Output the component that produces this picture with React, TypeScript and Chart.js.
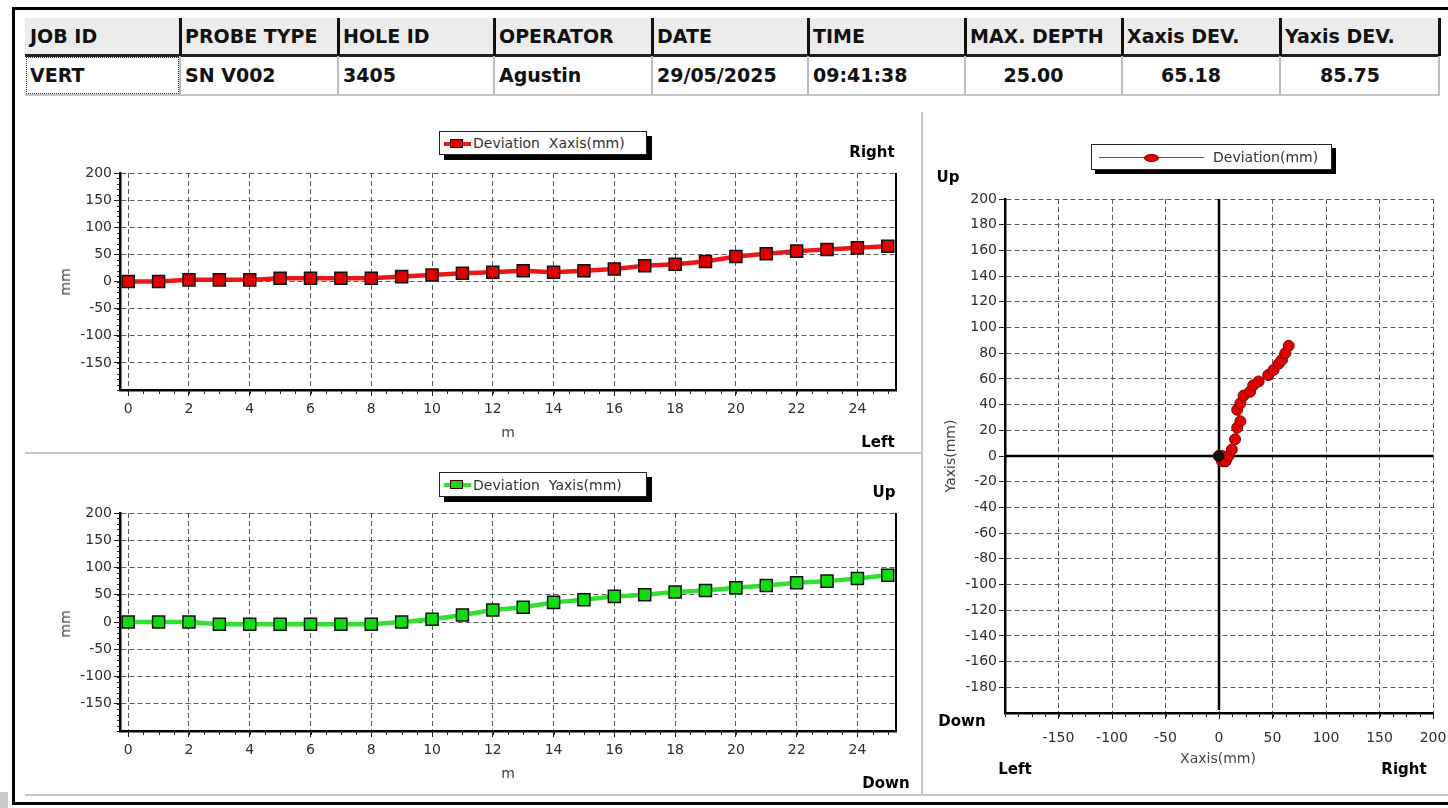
import React, { useEffect, useRef } from "react";
import { Chart, registerables } from "chart.js";

Chart.register(...registerables);

// ---------- data ----------
const headerLabels = ["JOB ID", "PROBE TYPE", "HOLE ID", "OPERATOR", "DATE", "TIME", "MAX. DEPTH", "Xaxis DEV.", "Yaxis DEV."];
const headerValues = ["VERT", "SN V002", "3405", "Agustin", "29/05/2025", "09:41:38", "25.00", "65.18", "85.75"];

const depthM = [0, 1, 2, 3, 4, 5, 6, 7, 8, 9, 10, 11, 12, 13, 14, 15, 16, 17, 18, 19, 20, 21, 22, 23, 24, 25];
const devXaxisMm = [0, 0, 3, 3, 3, 6, 6, 6, 6, 9, 12, 15, 17, 20, 17, 20, 23, 29, 32, 37, 46, 51, 56, 59, 62, 65.18];
const devYaxisMm = [0, 0, 0, -4, -4, -4, -4, -4, -4, 0, 5, 13, 22, 27, 36, 41, 47, 50, 55, 58, 63, 67, 72, 75, 80, 85.75];

const depthTicks = [0, 2, 4, 6, 8, 10, 12, 14, 16, 18, 20, 22, 24];
const devTicks = [-150, -100, -50, 0, 50, 100, 150, 200];
const planXTicks = [-150, -100, -50, 0, 50, 100, 150, 200];
const planYTicks = [-180, -160, -140, -120, -100, -80, -60, -40, -20, 0, 20, 40, 60, 80, 100, 120, 140, 160, 180, 200];

// ---------- style ----------
const SANS = "'DejaVu Sans', Verdana, sans-serif";
const TICK_FONT = { family: SANS, size: 14 };
const TICK_COLOR = "#2e2e2e";

const colEdges = [25, 180, 338, 494, 652, 808, 965, 1122, 1280, 1440];
const centeredCols = [6, 7, 8];

function fixAxis(size: number, horizontal: boolean) {
  return (s: any) => {
    if (horizontal) s.height = size;
    else s.width = size;
    s.paddingLeft = 0;
    s.paddingRight = 0;
    s.paddingTop = 0;
    s.paddingBottom = 0;
  };
}
function setTicks(values: number[]) {
  return (s: any) => {
    s.ticks = values.map((v) => ({ value: v }));
  };
}

const decorPlugin = {
  id: "decor",
  beforeDatasetsDraw(chart: any, _args: any, opts: any) {
    const { ctx, chartArea } = chart;
    const xs = chart.scales.x;
    const ys = chart.scales.y;
    if (opts.zeroLines) {
      ctx.save();
      ctx.strokeStyle = "#000";
      ctx.lineWidth = 2.5;
      ctx.setLineDash([]);
      const x0 = xs.getPixelForValue(0);
      const y0 = ys.getPixelForValue(0);
      ctx.beginPath();
      ctx.moveTo(chartArea.left, y0);
      ctx.lineTo(chartArea.right, y0);
      ctx.moveTo(x0, chartArea.top);
      ctx.lineTo(x0, chartArea.bottom - 3);
      ctx.stroke();
      ctx.restore();
    }
  },
  afterDraw(chart: any, _args: any, opts: any) {
    const { ctx, chartArea } = chart;
    const xs = chart.scales.x;
    const ys = chart.scales.y;
    ctx.save();
    ctx.setLineDash([]);
    ctx.strokeStyle = "#222";
    ctx.lineWidth = 1;
    if (opts.xMinor) {
      const step = opts.xMinor;
      ctx.beginPath();
      for (let v = Math.ceil(xs.min / step) * step; v <= xs.max + 1e-9; v += step) {
        const px = Math.round(xs.getPixelForValue(v)) + 0.5;
        ctx.moveTo(px, chartArea.bottom);
        ctx.lineTo(px, chartArea.bottom + 4);
      }
      ctx.stroke();
    }
    if (opts.yMinor) {
      const step = opts.yMinor;
      ctx.beginPath();
      for (let v = Math.ceil(ys.min / step) * step; v <= ys.max + 1e-9; v += step) {
        const py = Math.round(ys.getPixelForValue(v)) + 0.5;
        ctx.moveTo(chartArea.left - 3, py);
        ctx.lineTo(chartArea.left, py);
      }
      ctx.stroke();
    }
    if (opts.rightBorder) {
      ctx.strokeStyle = "#000";
      ctx.lineWidth = 2;
      ctx.beginPath();
      ctx.moveTo(chartArea.right, chartArea.top);
      ctx.lineTo(chartArea.right, chartArea.bottom);
      ctx.stroke();
    }
    ctx.restore();
  },
};

function gridOpts() {
  return {
    color: "#5a5a5a",
    lineWidth: 1,
    drawTicks: true,
    tickLength: 6,
    tickColor: "#222",
    tickWidth: 1,
    tickBorderDash: [],
    borderDash: [5, 3],
  };
}
function borderOpts() {
  return { display: true, color: "#000", width: 2.5, dash: [5, 3] };
}

function depthChart(values: number[], fill: string, line: string, label: string, xHeight: number, topPad: number) {
  return {
    type: "line",
    data: {
      datasets: [
        {
          label,
          data: depthM.map((d, i) => ({ x: d, y: values[i] })),
          borderColor: line,
          borderWidth: 4.5,
          backgroundColor: fill,
          pointBackgroundColor: fill,
          pointBorderColor: "#111",
          pointBorderWidth: 1.5,
          pointStyle: "rect",
          pointRadius: 8.5,
          tension: 0,
          clip: false,
        },
      ],
    },
    options: {
      animation: false,
      responsive: false,
      maintainAspectRatio: false,
      devicePixelRatio: 1,
      layout: { padding: { top: topPad, right: 24, left: 0, bottom: 0 } },
      plugins: { legend: { display: false }, tooltip: { enabled: false }, decor: { xMinor: 0.5, yMinor: 10, rightBorder: true } },
      scales: {
        x: {
          type: "linear",
          min: -0.27,
          max: 25.27,
          afterBuildTicks: setTicks(depthTicks),
          afterFit: fixAxis(xHeight, true),
          grid: gridOpts(),
          border: borderOpts(),
          ticks: { font: TICK_FONT, color: TICK_COLOR, padding: 5, maxRotation: 0, autoSkip: false, callback: (v: any) => String(v) },
        },
        y: {
          type: "linear",
          min: -200,
          max: 200,
          afterBuildTicks: setTicks(devTicks),
          afterFit: fixAxis(100, false),
          grid: gridOpts(),
          border: borderOpts(),
          ticks: { font: TICK_FONT, color: TICK_COLOR, padding: 2, autoSkip: false, callback: (v: any) => String(v) },
        },
      },
    },
    plugins: [decorPlugin],
  };
}

function planChart() {
  return {
    type: "scatter",
    data: {
      datasets: [
        {
          label: "start",
          data: [{ x: devXaxisMm[0], y: devYaxisMm[0] }],
          pointBackgroundColor: "#111",
          pointBorderColor: "#000",
          pointRadius: 5,
          pointStyle: "circle",
          showLine: false,
        },
        {
          label: "Deviation(mm)",
          data: devXaxisMm.map((x, i) => ({ x, y: devYaxisMm[i] })),
          showLine: true,
          borderColor: "#cc0000",
          borderWidth: 1.5,
          backgroundColor: "#e00000",
          pointBackgroundColor: "#e00000",
          pointBorderColor: "#8a0000",
          pointBorderWidth: 1,
          pointRadius: 5.5,
          pointStyle: "circle",
          tension: 0,
        },
      ],
    },
    options: {
      animation: false,
      responsive: false,
      maintainAspectRatio: false,
      devicePixelRatio: 1,
      layout: { padding: { top: 14, right: 15, left: 0, bottom: 0 } },
      plugins: { legend: { display: false }, tooltip: { enabled: false }, decor: { xMinor: 12.5, zeroLines: true } },
      scales: {
        x: {
          type: "linear",
          min: -200,
          max: 200,
          afterBuildTicks: setTicks(planXTicks),
          afterFit: fixAxis(77, true),
          grid: gridOpts(),
          border: borderOpts(),
          ticks: { font: TICK_FONT, color: TICK_COLOR, padding: 11, maxRotation: 0, autoSkip: false, callback: (v: any) => String(v) },
        },
        y: {
          type: "linear",
          min: -200,
          max: 200,
          afterBuildTicks: setTicks(planYTicks),
          afterFit: fixAxis(80, false),
          grid: gridOpts(),
          border: borderOpts(),
          ticks: { font: TICK_FONT, color: TICK_COLOR, padding: 2, autoSkip: false, callback: (v: any) => String(v) },
        },
      },
    },
    plugins: [decorPlugin],
  };
}

function ChartBox(props: { left: number; top: number; width: number; height: number; make: () => any }) {
  const ref = useRef<HTMLCanvasElement>(null);
  useEffect(() => {
    const c = new Chart(ref.current as HTMLCanvasElement, props.make());
    return () => c.destroy();
  }, []);
  return (
    <canvas
      ref={ref}
      width={props.width}
      height={props.height}
      style={{ position: "absolute", left: props.left, top: props.top, width: props.width, height: props.height }}
    />
  );
}

function Txt(props: { x: number; y: number; children: any; style?: any; rotate?: boolean }) {
  return (
    <div
      style={{
        position: "absolute",
        left: props.x,
        top: props.y,
        transform: `translate(-50%, -50%)${props.rotate ? " rotate(-90deg)" : ""}`,
        whiteSpace: "nowrap",
        lineHeight: 1,
        ...props.style,
      }}
    >
      {props.children}
    </div>
  );
}

const dirStyle = { fontFamily: SANS, fontWeight: "bold", fontSize: 15, color: "#000" };
const titleStyle = { fontFamily: SANS, fontSize: 14, color: "#444" };

function Legend(props: { left: number; top: number; width: number; height: number; kind: "sq" | "dot"; fill: string; line: string; text: string; textLeft: number; shadow: number }) {
  const cy = props.height / 2;
  return (
    <div
      style={{
        position: "absolute",
        left: props.left,
        top: props.top,
        width: props.width,
        height: props.height,
        background: "#fff",
        border: "1px solid #222",
        boxSizing: "border-box",
        boxShadow: `${props.shadow}px ${props.shadow}px 0 #000`,
      }}
    >
      {props.kind === "sq" ? (
        <>
          <div style={{ position: "absolute", left: 4, top: cy - 2.5, width: 27, height: 4, background: props.line }} />
          <div style={{ position: "absolute", left: 10, top: cy - 5.5, width: 13, height: 9, background: props.fill, border: "1px solid #400", boxSizing: "border-box" }} />
        </>
      ) : (
        <>
          <div style={{ position: "absolute", left: 7, top: cy - 1.5, width: 105, height: 1.5, background: props.line }} />
          <div style={{ position: "absolute", left: 52, top: cy - 4.5, width: 15, height: 8, borderRadius: "50%", background: props.fill, border: "1px solid #800", boxSizing: "border-box" }} />
        </>
      )}
      <div
        style={{
          position: "absolute",
          left: props.textLeft,
          top: cy - 1,
          transform: "translateY(-50%)",
          fontFamily: SANS,
          fontSize: 14,
          color: "#333",
          whiteSpace: "pre",
          lineHeight: 1,
        }}
      >
        {props.text}
      </div>
    </div>
  );
}

function HeaderTable() {
  const cells: any[] = [];
  for (let i = 0; i < headerLabels.length; i++) {
    const l = colEdges[i];
    const r = colEdges[i + 1];
    const center = centeredCols.includes(i);
    cells.push(
      <div key={"h" + i} style={{ position: "absolute", left: l + 5, top: 36, transform: "translateY(-50%)", fontFamily: SANS, fontWeight: "bold", fontSize: 19, color: "#111", whiteSpace: "nowrap", lineHeight: 1 }}>
        {headerLabels[i]}
      </div>
    );
    cells.push(
      <div
        key={"v" + i}
        style={{
          position: "absolute",
          left: center ? (l + r) / 2 - 10 : l + 5,
          top: 75,
          transform: center ? "translate(-50%, -50%)" : "translateY(-50%)",
          fontFamily: SANS,
          fontWeight: "bold",
          fontSize: 19,
          color: "#111",
          whiteSpace: "nowrap",
          lineHeight: 1,
        }}
      >
        {headerValues[i]}
      </div>
    );
    if (i > 0) {
      cells.push(<div key={"d" + i} style={{ position: "absolute", left: l - 1, top: 18, width: 2.5, height: 38, background: "#111" }} />);
      cells.push(<div key={"g" + i} style={{ position: "absolute", left: l - 1, top: 56, width: 1.5, height: 39, background: "#bdbdbd" }} />);
    }
  }
  return (
    <>
      <div style={{ position: "absolute", left: 25, top: 18, width: 1415, height: 37, background: "#ececec" }} />
      <div style={{ position: "absolute", left: 25, top: 54, width: 1415, height: 2.5, background: "#222" }} />
      <div style={{ position: "absolute", left: 25, top: 94, width: 1415, height: 2, background: "#c4c4c4" }} />
      <div style={{ position: "absolute", left: 1438, top: 18, width: 2.5, height: 38, background: "#111" }} />
      <div style={{ position: "absolute", left: 1438, top: 56, width: 1.5, height: 39, background: "#bdbdbd" }} />
      <div style={{ position: "absolute", left: 26, top: 57, width: 153, height: 37, border: "1px dotted #333", boxSizing: "border-box" }} />
      {cells}
    </>
  );
}

export default function App() {
  useEffect(() => {
    document.body.style.margin = "0";
    document.body.style.background = "#fff";
  }, []);
  return (
    <div style={{ position: "relative", width: 1448, height: 808, background: "#fff", overflow: "hidden" }}>
      {/* frame */}
      <div style={{ position: "absolute", left: 12, top: 7, width: 1436, height: 3, background: "#000" }} />
      <div style={{ position: "absolute", left: 12, top: 7, width: 3, height: 798, background: "#000" }} />
      <div style={{ position: "absolute", left: 12, top: 802, width: 1436, height: 3, background: "#000" }} />
      <div style={{ position: "absolute", left: 0, top: 792, width: 8, height: 16, background: "#c8c8c8" }} />
      <div style={{ position: "absolute", left: 25, top: 452, width: 896, height: 2, background: "#c8c8c8" }} />
      <div style={{ position: "absolute", left: 921, top: 112, width: 2, height: 684, background: "#c8c8c8" }} />
      <div style={{ position: "absolute", left: 25, top: 794, width: 1423, height: 2, background: "#c8c8c8" }} />

      <HeaderTable />

      {/* top-left: X deviation vs depth */}
      <ChartBox left={20} top={160} width={900} height={290} make={() => depthChart(devXaxisMm, "#e00000", "#f01414", "Deviation  Xaxis(mm)", 60, 13)} />
      <Legend left={439} top={131} width={208} height={24} kind="sq" fill="#e00000" line="#f01414" text="Deviation  Xaxis(mm)" textLeft={33} shadow={5} />
      <Txt x={872} y={152} style={dirStyle}>Right</Txt>
      <Txt x={878} y={442} style={dirStyle}>Left</Txt>
      <Txt x={65} y={282} rotate style={titleStyle}>mm</Txt>
      <Txt x={508} y={432} style={titleStyle}>m</Txt>

      {/* bottom-left: Y deviation vs depth */}
      <ChartBox left={20} top={500} width={900} height={290} make={() => depthChart(devYaxisMm, "#10dc10", "#2ee22e", "Deviation  Yaxis(mm)", 59, 13)} />
      <Legend left={439} top={472} width={208} height={25} kind="sq" fill="#10dc10" line="#2ee22e" text="Deviation  Yaxis(mm)" textLeft={33} shadow={5} />
      <Txt x={884} y={492} style={dirStyle}>Up</Txt>
      <Txt x={886} y={783} style={dirStyle}>Down</Txt>
      <Txt x={65} y={624} rotate style={titleStyle}>mm</Txt>
      <Txt x={508} y={773} style={titleStyle}>m</Txt>

      {/* right: plan view */}
      <ChartBox left={925} top={185} width={523} height={605} make={planChart} />
      <Legend left={1091} top={144} width={241} height={26} kind="dot" fill="#e00000" line="#cc2020" text="Deviation(mm)" textLeft={121} shadow={4} />
      <Txt x={948} y={177} style={dirStyle}>Up</Txt>
      <Txt x={962} y={721} style={dirStyle}>Down</Txt>
      <Txt x={1015} y={769} style={dirStyle}>Left</Txt>
      <Txt x={1404} y={769} style={dirStyle}>Right</Txt>
      <Txt x={1218} y={758} style={titleStyle}>Xaxis(mm)</Txt>
      <Txt x={950} y={456} rotate style={titleStyle}>Yaxis(mm)</Txt>
    </div>
  );
}
